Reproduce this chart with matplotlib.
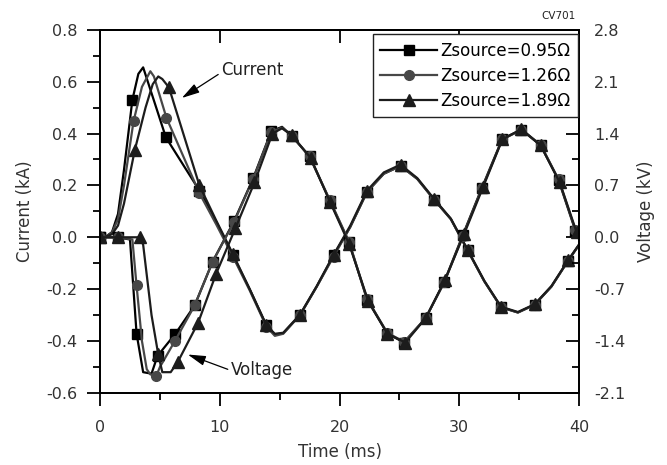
import numpy as np
import matplotlib
matplotlib.use("Agg")
import matplotlib.pyplot as plt
from matplotlib.ticker import MultipleLocator, FormatStrFormatter

plt.rcParams['font.family'] = ['DejaVu Sans']

# ---- data ----
# current (kA) vs time (ms)
t_cur_a = [0, 0.5, 1.0, 1.5, 2.0, 2.7, 3.2, 3.6, 5.5, 8.3, 9.7, 11.1, 12.5, 13.9, 14.6, 15.3,
           16.7, 18.1, 19.5, 20.9, 22.3, 23.7, 25.1, 26.5, 27.9, 29.3, 30.7, 32.1, 33.5,
           34.9, 36.3, 37.7, 39.1, 40.0]
cur_a = [0, 0.003, 0.02, 0.09, 0.26, 0.53, 0.63, 0.655, 0.385, 0.18, 0.06, -0.07, -0.2,
         -0.34, -0.375, -0.37, -0.3, -0.19, -0.07, 0.04, 0.175, 0.245, 0.275, 0.225, 0.145,
         0.07, -0.05, -0.17, -0.27, -0.29, -0.26, -0.19, -0.09, -0.03]
mk_cur_a = [0, 5, 8, 9, 11, 13, 16, 18, 20, 22, 24, 26, 28, 30, 32]

t_cur_b = [0, 0.5, 1.0, 1.5, 2.0, 2.8, 3.5, 4.2, 4.5, 5.55, 8.3, 9.7, 11.1, 12.5, 13.9, 14.6,
           15.3, 16.7, 18.1, 19.5, 20.9, 22.3, 23.7, 25.1, 26.5, 27.9, 29.3, 30.7, 32.1,
           33.5, 34.9, 36.3, 37.7, 39.1, 40.0]
cur_b = [0, 0.003, 0.018, 0.07, 0.2, 0.448, 0.58, 0.64, 0.62, 0.46, 0.17, 0.05, -0.075,
         -0.205, -0.345, -0.38, -0.372, -0.3, -0.19, -0.075, 0.04, 0.175, 0.245, 0.275,
         0.225, 0.145, 0.07, -0.05, -0.17, -0.27, -0.29, -0.26, -0.19, -0.09, -0.03]
mk_cur_b = [0, 5, 9, 10, 12, 14, 17, 19, 21, 23, 25, 27, 29, 31, 33]

t_cur_c = [0, 0.5, 1.0, 1.5, 2.0, 2.9, 3.8, 4.4, 4.86, 5.2, 5.75, 8.3, 9.7, 11.1, 12.5, 13.9,
           14.6, 15.3, 16.7, 18.1, 19.5, 20.9, 22.3, 23.7, 25.1, 26.5, 27.9, 29.3, 30.7,
           32.1, 33.5, 34.9, 36.3, 37.7, 39.1, 40.0]
cur_c = [0, 0.002, 0.012, 0.045, 0.13, 0.336, 0.5, 0.59, 0.62, 0.61, 0.578, 0.2, 0.065,
         -0.065, -0.2, -0.34, -0.372, -0.368, -0.298, -0.188, -0.068, 0.045, 0.18, 0.25,
         0.28, 0.228, 0.148, 0.072, -0.048, -0.168, -0.268, -0.288, -0.258, -0.188,
         -0.088, -0.028]
mk_cur_c = [0, 5, 10, 11, 13, 15, 18, 20, 22, 24, 26, 28, 30, 32, 34]

# voltage (kV) vs time (ms)
t_vol_a = [0, 1.5, 2.5, 3.05, 3.6, 4.3, 4.8, 6.3, 7.9, 9.4, 11.2, 12.8, 14.3, 15.2, 16.0,
           17.5, 19.2, 20.8, 22.3, 24.0, 25.4, 27.2, 28.75, 30.3, 31.9, 33.6, 35.2, 36.8,
           38.3, 39.7, 40.0]
vol_a = [0, 0, -0.03, -1.30, -1.82, -1.84, -1.6, -1.30, -0.92, -0.33, 0.22, 0.80, 1.43,
         1.49, 1.37, 1.09, 0.49, -0.07, -0.84, -1.30, -1.42, -1.09, -0.60, 0.03, 0.67,
         1.33, 1.45, 1.24, 0.77, 0.09, -0.02]
mk_vol_a = [0, 1, 3, 6, 7, 8, 9, 10, 11, 12, 14, 15, 16, 17, 18, 19, 20, 21, 22, 23, 24,
            25, 26, 27, 28, 29]

t_vol_b = [0, 1.5, 2.7, 3.05, 3.5, 3.9, 4.2, 4.7, 5.0, 6.25, 7.9, 9.4, 11.2, 12.8, 14.3,
           15.2, 16.0, 17.5, 19.2, 20.8, 22.3, 24.0, 25.4, 27.2, 28.75, 30.3, 31.9, 33.6,
           35.2, 36.8, 38.3, 39.7, 40.0]
vol_b = [0, 0, -0.03, -0.65, -1.40, -1.78, -1.85, -1.87, -1.75, -1.40, -0.92, -0.33, 0.21,
         0.79, 1.42, 1.48, 1.37, 1.09, 0.50, -0.06, -0.83, -1.29, -1.41, -1.09, -0.61,
         0.02, 0.66, 1.32, 1.45, 1.25, 0.78, 0.10, -0.01]
mk_vol_b = [0, 1, 3, 7, 9, 10, 11, 12, 13, 14, 16, 17, 18, 19, 20, 21, 22, 23, 24, 25, 26,
            27, 28, 29, 30, 31]

t_vol_c = [0, 1.5, 3.3, 3.6, 4.3, 4.86, 5.2, 5.9, 6.5, 8.2, 9.7, 11.3, 12.9, 14.4, 15.2,
           16.0, 17.6, 19.2, 20.8, 22.4, 24.0, 25.5, 27.2, 28.8, 30.4, 32.0, 33.6, 35.2,
           36.8, 38.4, 39.8, 40.0]
vol_c = [0, 0, 0, -0.1, -1.05, -1.58, -1.82, -1.82, -1.68, -1.15, -0.49, 0.12, 0.74, 1.40,
         1.47, 1.38, 1.07, 0.48, -0.09, -0.86, -1.30, -1.42, -1.09, -0.58, 0.04, 0.68,
         1.32, 1.46, 1.24, 0.74, 0.07, -0.02]
mk_vol_c = [0, 1, 2, 5, 8, 9, 10, 11, 12, 13, 15, 16, 17, 18, 19, 20, 21, 22, 23, 24, 25,
            26, 27, 28, 29, 30]

labels = ['Zsource=0.95Ω', 'Zsource=1.26Ω', 'Zsource=1.89Ω']
colors = ['#000000', '#474747', '#1c1c1c']
markers = ['s', 'o', '^']
msizes = [6.5, 7, 8]

series = [
    (t_cur_a, cur_a, mk_cur_a, t_vol_a, vol_a, mk_vol_a),
    (t_cur_b, cur_b, mk_cur_b, t_vol_b, vol_b, mk_vol_b),
    (t_cur_c, cur_c, mk_cur_c, t_vol_c, vol_c, mk_vol_c),
]

fig = plt.figure(figsize=(6.67, 4.65), dpi=100)
ax = fig.add_axes([0.15, 0.155, 0.718, 0.781])
ax2 = ax.twinx()

handles = []
for (tc, ic, mc, tv, vv, mv), lab, col, mkr, ms in zip(series, labels, colors, markers, msizes):
    h, = ax.plot(tc, ic, color=col, lw=1.6, marker=mkr, ms=ms, markevery=mc,
                 markeredgecolor=col, markerfacecolor=col, label=lab)
    ax2.plot(tv, vv, color=col, lw=1.6, marker=mkr, ms=ms, markevery=mv,
             markeredgecolor=col, markerfacecolor=col)
    handles.append(h)

ax.set_xlim(0, 40)
ax.set_ylim(-0.6, 0.8)
ax2.set_ylim(-2.1, 2.8)

tick_fs = 11.5
ax.xaxis.set_major_locator(MultipleLocator(10))
ax.xaxis.set_minor_locator(MultipleLocator(5))
ax.yaxis.set_major_locator(MultipleLocator(0.2))
ax.yaxis.set_minor_locator(MultipleLocator(0.1))
ax.yaxis.set_major_formatter(FormatStrFormatter('%.1f'))
ax2.yaxis.set_major_locator(MultipleLocator(0.7))
ax2.yaxis.set_minor_locator(MultipleLocator(0.35))
ax2.yaxis.set_major_formatter(FormatStrFormatter('%.1f'))

ax.tick_params(axis='x', which='major', direction='out', length=9.5, width=1.3, pad=10,
               labelsize=tick_fs, labelcolor='#333333')
ax.tick_params(axis='x', which='minor', direction='out', length=5, width=1.3)
ax.tick_params(axis='y', which='major', direction='out', length=9.5, width=1.3, pad=7,
               labelsize=tick_fs, labelcolor='#333333')
ax.tick_params(axis='y', which='minor', direction='out', length=5, width=1.3)
ax2.tick_params(axis='y', which='major', direction='in', length=9.5, width=1.3, pad=11,
                labelsize=tick_fs, labelcolor='#333333')
ax2.tick_params(axis='y', which='minor', direction='in', length=5, width=1.3)

top = ax.secondary_xaxis('top')
top.set_xticks([0, 10, 20, 30, 40])
top.tick_params(direction='in', length=9.5, width=1.3, labeltop=False)
top.spines['top'].set_linewidth(1.3)

for a in (ax, ax2):
    for s in a.spines.values():
        s.set_linewidth(1.3)

ax.set_xlabel('Time (ms)', fontsize=12, color='#333333', labelpad=6)
ax.set_ylabel('Current (kA)', fontsize=12, color='#333333', labelpad=9)
ax2.set_ylabel('Voltage (kV)', fontsize=12, color='#333333', labelpad=8)

leg = ax2.legend(handles=handles, loc='upper right', bbox_to_anchor=(0.998, 0.988),
                 fontsize=12, frameon=True, fancybox=False, framealpha=1,
                 edgecolor='#222222', handlelength=3.4, handletextpad=0.2,
                 labelspacing=0.42, borderpad=0.45, borderaxespad=0)
leg.get_frame().set_linewidth(1.0)

arrow = dict(arrowstyle='-|>,head_length=0.9,head_width=0.25', color='black', lw=0.9,
             shrinkA=0, shrinkB=0)
ax.annotate('Current', xy=(6.83, 0.537), xytext=(10.1, 0.645), fontsize=12,
            color='#222222', ha='left', va='center',
            arrowprops=dict(arrow, relpos=(0, 0.35)))
ax.annotate('Voltage', xy=(7.33, -0.452), xytext=(10.9, -0.513), fontsize=12,
            color='#222222', ha='left', va='center',
            arrowprops=dict(arrow, relpos=(0, 0.5)))

fig.text(0.838, 0.965, 'CV701', fontsize=7.5, ha='center', va='center', color='#222222')

fig.savefig('out.png', dpi=100)
